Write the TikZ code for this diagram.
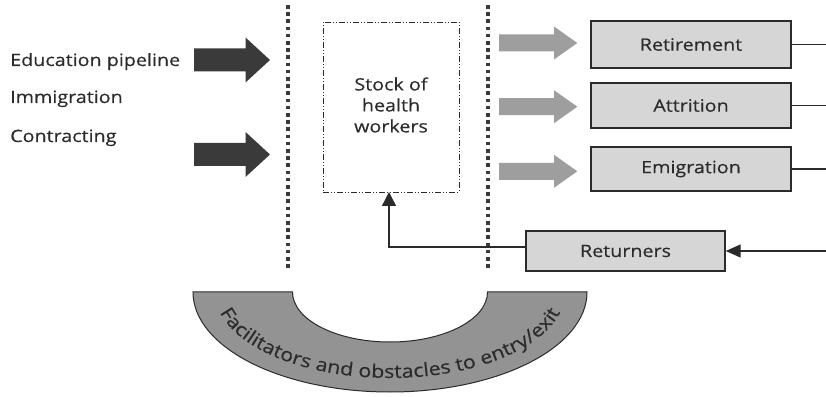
\documentclass[tikz,border=0pt]{standalone}
\usepackage{fontspec}
\setmainfont{Open Sans}[FakeStretch=1.16,FakeBold=0.35]
\usetikzlibrary{arrows.meta,decorations.text}
\definecolor{inkc}{HTML}{2B2B2B}
\definecolor{darkc}{HTML}{3A3A3A}
\definecolor{lightarr}{HTML}{9E9E9E}
\definecolor{boxfill}{HTML}{D6D6D6}
\definecolor{arcfill}{HTML}{939393}
\begin{document}
\begin{tikzpicture}[x=1pt,y=1pt,
  every node/.style={text=inkc},
  lbl/.style={font=\fontsize{17}{21}\selectfont},
  dotline/.style={draw=darkc,line width=3.6pt,dash pattern=on 3.6pt off 3.6pt},
  stockbox/.style={draw=inkc,line width=0.8pt,dash pattern=on 6pt off 2pt on 1pt off 2pt on 1pt off 2pt,minimum width=136pt,minimum height=170pt,inner sep=0pt},
  outbox/.style={draw=inkc,fill=boxfill,line width=1.4pt,minimum width=200pt,inner sep=0pt,font=\fontsize{17}{21}\selectfont},
  flowline/.style={draw=inkc,line width=1.4pt},
  darkarrow/.style={fill=darkc},
  greyarrow/.style={fill=lightarr}
]
\useasboundingbox (0,0) rectangle (826,396);

% left labels
\node[lbl,anchor=base west,inner sep=0pt] (edu) at (10,330) {Education pipeline};
\node[lbl,anchor=base west,inner sep=0pt] (imm) at (10,293) {Immigration};
\node[lbl,anchor=base west,inner sep=0pt] (con) at (10,254) {Contracting};

% dark inflow arrows
\path[darkarrow] (194,336) ++(0,-11.5) -- ++(51.5,0) -- ++(0,-11) -- ++(24.5,22.5) -- ++(-24.5,22.5) -- ++(0,-11) -- ++(-51.5,0) -- cycle;
\path[darkarrow] (194,241.5) ++(0,-11.5) -- ++(51.5,0) -- ++(0,-11) -- ++(24.5,22.5) -- ++(-24.5,22.5) -- ++(0,-11) -- ++(-51.5,0) -- cycle;

% dotted boundaries
\coordinate (dlt) at (288,391);
\coordinate (dlb) at (288,128);
\coordinate (drt) at (488,391);
\coordinate (drb) at (488,128);
\draw[dotline] (dlt) -- (dlb);
\draw[dotline] (drt) -- (drb);

% stock box
\node[stockbox] (stock) at (391,289) {};
\node[lbl,align=center,inner sep=0pt] (stocktxt) at (391,291) {Stock of\\health\\workers};

% grey outflow arrows
\path[greyarrow] (499,353) ++(0,-8.5) -- ++(55,0) -- ++(0,-8) -- ++(23.3,16.5) -- ++(-23.3,16.5) -- ++(0,-8) -- ++(-55,0) -- cycle;
\path[greyarrow] (499,289.3) ++(0,-8.5) -- ++(55,0) -- ++(0,-8) -- ++(23.3,16.5) -- ++(-23.3,16.5) -- ++(0,-8) -- ++(-55,0) -- cycle;
\path[greyarrow] (499,224.7) ++(0,-8.5) -- ++(55,0) -- ++(0,-8) -- ++(23.3,16.5) -- ++(-23.3,16.5) -- ++(0,-8) -- ++(-55,0) -- cycle;

% outflow boxes
\node[outbox,minimum height=47pt] (ret) at (691,351.5) {Retirement};
\node[outbox,minimum height=45pt] (att) at (691,290.5) {Attrition};
\node[outbox,minimum height=44pt] (emi) at (691,227) {Emigration};
\node[outbox,minimum width=199pt,minimum height=40pt] (rtn) at (625.5,145) {Returners};

\coordinate (reto) at (826,351.5);
\coordinate (atto) at (826,290.5);
\coordinate (emio) at (826,227);
\coordinate (rtni) at (826,145);
\draw[flowline] (ret.east) -- (reto);
\draw[flowline] (att.east) -- (atto);
\draw[flowline] (emi.east) -- (emio);
\draw[flowline,-{Triangle[length=15pt,width=13pt]}] (rtni) -- (rtn.east);

% returners back to stock
\coordinate (rtnl) at (rtn.west |- 0,149);
\draw[flowline,-{Triangle[length=14pt,width=14pt]}] (rtnl) -- (389,149) -- (389,204);

% arc of facilitators
\path[draw=inkc,fill=arcfill,line width=1pt] (193,104) -- (292.5,104) arc[start angle=180,end angle=360,x radius=97.5,y radius=50] -- (587,104) arc[start angle=0,end angle=-180,x radius=197,y radius=100] -- cycle;
\path[decorate,decoration={text along path,text align=center,text={|\fontsize{18.5}{22}\selectfont\color{inkc}|Facilitators and obstacles to entry/exit}}] (215,104) arc[start angle=180,end angle=360,x radius=175,y radius=86];
\end{tikzpicture}
\end{document}
